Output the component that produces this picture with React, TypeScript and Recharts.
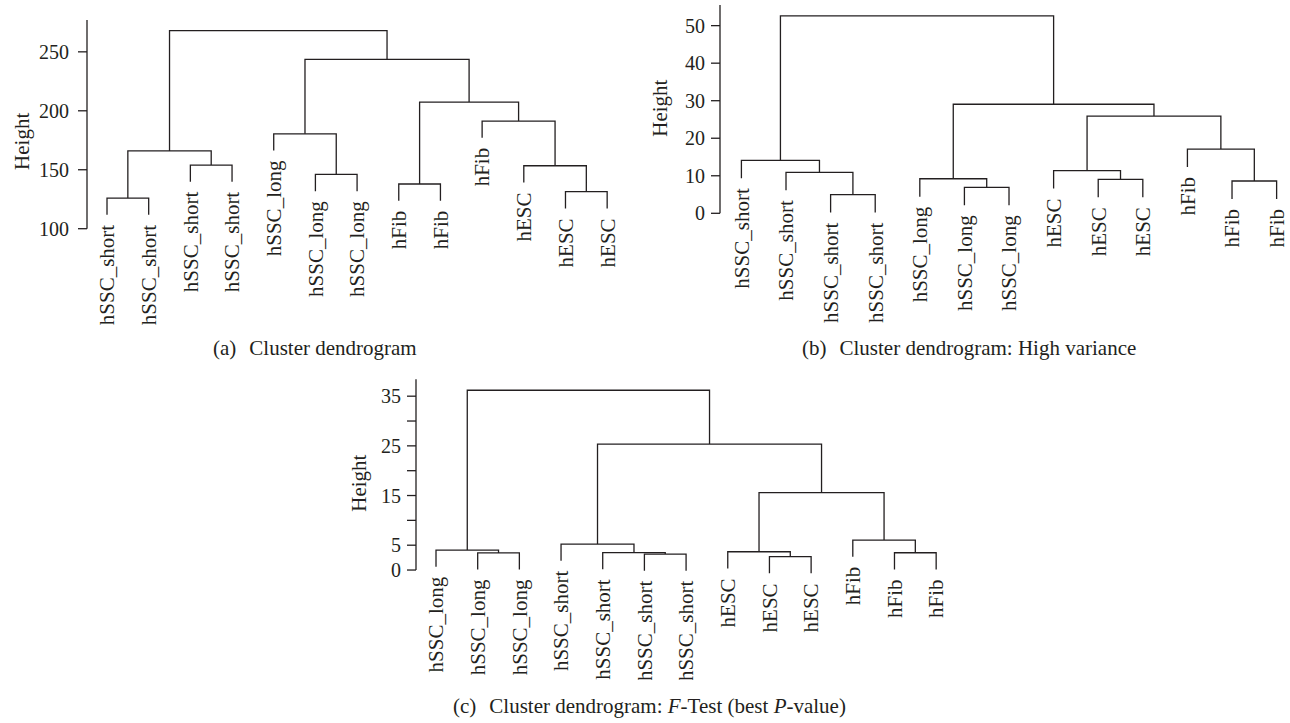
import React from 'react'
import {
  ComposedChart,
  Line,
  Scatter,
  XAxis,
  YAxis,
  ReferenceLine,
} from 'recharts'

const FONT = '"Liberation Serif", "Times New Roman", serif'
const INK = '#231f20'

// Leaves are listed in plotted order. Merge pairs use the hclust convention:
// a negative number is a leaf (1-based), a positive one an earlier merge row.
const labelsA = [
  'hSSC_short', 'hSSC_short', 'hSSC_short', 'hSSC_short',
  'hSSC_long', 'hSSC_long', 'hSSC_long',
  'hFib', 'hFib', 'hFib',
  'hESC', 'hESC', 'hESC',
]
const mergesA: [number, number][] = [
  [-1, -2], [-12, -13], [-8, -9], [-6, -7], [-11, 2], [-3, -4],
  [1, 6], [-5, 4], [-10, 5], [3, 9], [8, 10], [7, 11],
]
const heightsA = [126, 131.4, 137.9, 146, 153.4, 154, 166, 180.5, 191.3, 207.4, 243.6, 268]
const ticksA = [100, 150, 200, 250]

const labelsB = [
  'hSSC_short', 'hSSC_short', 'hSSC_short', 'hSSC_short',
  'hSSC_long', 'hSSC_long', 'hSSC_long',
  'hESC', 'hESC', 'hESC',
  'hFib', 'hFib', 'hFib',
]
const mergesB: [number, number][] = [
  [-3, -4], [-6, -7], [-12, -13], [-9, -10], [-5, 2], [-2, 1],
  [-8, 4], [-1, 6], [-11, 3], [7, 9], [5, 10], [8, 11],
]
const heightsB = [4.96, 6.9, 8.6, 9.06, 9.2, 10.9, 11.35, 14.1, 17.1, 25.9, 29.05, 52.6]
const ticksB = [0, 10, 20, 30, 40, 50]

const labelsC = [
  'hSSC_long', 'hSSC_long', 'hSSC_long',
  'hSSC_short', 'hSSC_short', 'hSSC_short', 'hSSC_short',
  'hESC', 'hESC', 'hESC',
  'hFib', 'hFib', 'hFib',
]
const mergesC: [number, number][] = [
  [-9, -10], [-6, -7], [-2, -3], [-12, -13], [-5, 2], [-8, 1],
  [-1, 3], [-4, 5], [-11, 4], [6, 9], [8, 10], [7, 11],
]
const heightsC = [2.68, 3.22, 3.45, 3.48, 3.5, 3.68, 4.02, 5.23, 6.04, 15.6, 25.35, 36.2]
const ticksC = [0, 5, 10, 15, 20, 25, 30, 35]
const shownTicksC = [0, 5, 15, 25, 35]

type Pt = { x: number; y: number }

// turn the merge table into U-shaped links plus hanging leaf positions
function buildTree(labels: string[], merges: [number, number][], heights: number[]) {
  const hang = 0.1 * (Math.max(...heights) - Math.min(...heights))
  const nodes: Pt[] = []
  const links: Pt[][] = []
  const leaves: { x: number; y: number; label: string }[] = []
  const child = (ref: number, h: number): Pt => {
    if (ref < 0) {
      const p = { x: -ref, y: h - hang }
      leaves.push({ ...p, label: labels[-ref - 1] })
      return p
    }
    return nodes[ref - 1]
  }
  merges.forEach(([a, b], k) => {
    const h = heights[k]
    const l = child(a, h)
    const r = child(b, h)
    links.push([l, { x: l.x, y: h }, { x: r.x, y: h }, r])
    nodes.push({ x: (l.x + r.x) / 2, y: h })
  })
  return { links, leaves }
}

const LeafLabel = (props: any) => {
  const { cx, cy, payload } = props
  const y = cy + 10
  return (
    <text
      x={cx}
      y={y}
      dy="0.35em"
      transform={`rotate(-90 ${cx} ${y})`}
      textAnchor="end"
      fontFamily={FONT}
      fontSize={21}
      fill={INK}
    >
      {payload.label}
    </text>
  )
}

type PanelProps = {
  labels: string[]
  merges: [number, number][]
  heights: number[]
  xDomain: [number, number]
  yDomain: [number, number]
  yTicks: number[]
  shownTicks?: number[]
  left: number
  top: number
  width: number
  height: number
  margin: { top: number; right: number; bottom: number; left: number }
  axisWidth: number
  tickGap: number
  titleX: number
  titleDy: number
}

const Dendrogram = (p: PanelProps) => {
  const { links, leaves } = buildTree(p.labels, p.merges, p.heights)
  const shown = p.shownTicks ?? p.yTicks
  return (
    <div style={{ position: 'absolute', left: p.left, top: p.top }}>
      <ComposedChart width={p.width} height={p.height} margin={p.margin}>
        <XAxis type="number" dataKey="x" domain={p.xDomain} hide />
        <YAxis
          type="number"
          dataKey="y"
          domain={p.yDomain}
          ticks={p.yTicks}
          interval={0}
          width={p.axisWidth}
          axisLine={false}
          tickSize={9}
          tickMargin={p.tickGap}
          tickLine={{ stroke: INK, strokeWidth: 1.3 }}
          tick={(t: any) =>
            shown.includes(t.payload.value) ? (
              <text
                x={t.x}
                y={t.y}
                dy="0.35em"
                textAnchor="end"
                fontFamily={FONT}
                fontSize={20}
                fill={INK}
              >
                {t.payload.value}
              </text>
            ) : (
              <g />
            )
          }
          label={{
            content: (lp: any) => {
              const vb = lp.viewBox
              const cx = vb.x + p.titleX
              const cy = vb.y + vb.height / 2 + p.titleDy
              return (
                <text
                  x={cx}
                  y={cy}
                  transform={`rotate(-90 ${cx} ${cy})`}
                  textAnchor="middle"
                  dominantBaseline="central"
                  fontFamily={FONT}
                  fontSize={21}
                  fill={INK}
                >
                  Height
                </text>
              )
            },
          }}
        />
        <ReferenceLine
          segment={[
            { x: p.xDomain[0], y: p.yTicks[0] },
            { x: p.xDomain[0], y: p.yDomain[1] },
          ]}
          stroke={INK}
          strokeWidth={1.3}
          ifOverflow="visible"
        />
        {links.map((seg, i) => (
          <Line
            key={i}
            data={seg}
            dataKey="y"
            type="linear"
            stroke={INK}
            strokeWidth={1.3}
            dot={false}
            activeDot={false}
            isAnimationActive={false}
          />
        ))}
        <Scatter data={leaves} dataKey="y" shape={LeafLabel} isAnimationActive={false} />
      </ComposedChart>
    </div>
  )
}

const captionStyle: React.CSSProperties = {
  position: 'absolute',
  fontFamily: FONT,
  fontSize: 21,
  lineHeight: '21px',
  color: INK,
  whiteSpace: 'nowrap',
}

const Tag = ({ children }: { children: React.ReactNode }) => (
  <span style={{ marginRight: 13 }}>{children}</span>
)

export default function App() {
  return (
    <div
      style={{
        position: 'absolute',
        left: 0,
        top: 0,
        width: 1290,
        height: 723,
        background: '#fff',
        overflow: 'hidden',
      }}
    >
      <Dendrogram
        labels={labelsA}
        merges={mergesA}
        heights={heightsA}
        xDomain={[0.52, 13.5]}
        yDomain={[100, 277]}
        yTicks={ticksA}
        left={0}
        top={0}
        width={630}
        height={340}
        margin={{ top: 20, right: 2, bottom: 111.3, left: 0 }}
        axisWidth={87}
        tickGap={9}
        titleX={22}
        titleDy={17}
      />
      <Dendrogram
        labels={labelsB}
        merges={mergesB}
        heights={heightsB}
        xDomain={[0.52, 13.3]}
        yDomain={[0, 55.5]}
        yTicks={ticksB}
        left={640}
        top={0}
        width={650}
        height={340}
        margin={{ top: 5, right: 0, bottom: 126.7, left: 0 }}
        axisWidth={80}
        tickGap={6}
        titleX={20}
        titleDy={-1}
      />
      <Dendrogram
        labels={labelsC}
        merges={mergesC}
        heights={heightsC}
        xDomain={[0.52, 13.5]}
        yDomain={[-1, 38.4]}
        yTicks={ticksC}
        shownTicks={shownTicksC}
        left={336}
        top={360}
        width={623}
        height={320}
        margin={{ top: 19.3, right: 2, bottom: 105, left: 0 }}
        axisWidth={80}
        tickGap={6}
        titleX={23.5}
        titleDy={6}
      />
      <div style={{ ...captionStyle, left: 213, top: 337.5 }}>
        <Tag>(a)</Tag>Cluster dendrogram
      </div>
      <div style={{ ...captionStyle, left: 802, top: 337.5 }}>
        <Tag>(b)</Tag>Cluster dendrogram: High variance
      </div>
      <div style={{ ...captionStyle, left: 453, top: 696 }}>
        <Tag>(c)</Tag>Cluster dendrogram: <i>F</i>-Test (best <i>P</i>-value)
      </div>
    </div>
  )
}
